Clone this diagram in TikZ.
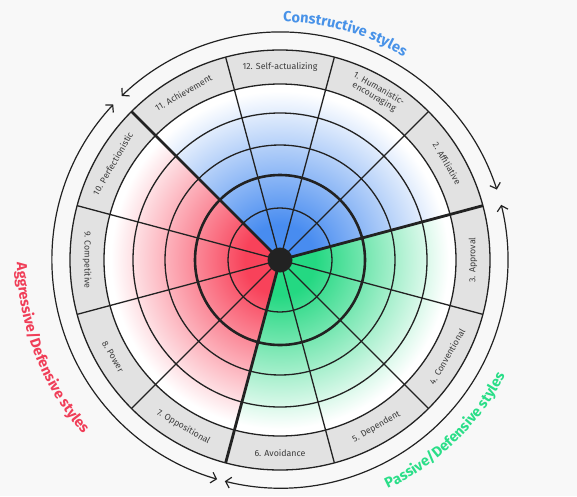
\documentclass[tikz,border=0pt]{standalone}
\usepackage{fontspec}
\setmainfont{Fira Sans}
\usetikzlibrary{arrows.meta,decorations.text}

\definecolor{bgGrey}{RGB}{248,248,248}
\definecolor{ringGrey}{RGB}{226,226,226}
\definecolor{lineDark}{RGB}{34,34,34}
\definecolor{labelDark}{RGB}{60,60,60}
\definecolor{blueFull}{RGB}{72,140,240}
\definecolor{redFull}{RGB}{248,66,90}
\definecolor{greenFull}{RGB}{36,216,130}
\definecolor{blueTitle}{RGB}{72,146,232}
\definecolor{redTitle}{RGB}{240,62,88}
\definecolor{greenTitle}{RGB}{42,222,136}

% radial fades, 25bp = radius of the shaded circle
\pgfdeclareradialshading{bluefade}{\pgfpoint{0bp}{0bp}}{color(0bp)=(blueFull); color(5bp)=(blueFull); color(24bp)=(white); color(50bp)=(white)}
\pgfdeclareradialshading{redfade}{\pgfpoint{0bp}{0bp}}{color(0bp)=(redFull); color(5bp)=(redFull); color(24bp)=(white); color(50bp)=(white)}
\pgfdeclareradialshading{greenfade}{\pgfpoint{0bp}{0bp}}{color(0bp)=(greenFull); color(5bp)=(greenFull); color(24bp)=(white); color(50bp)=(white)}

\begin{document}
\begin{tikzpicture}[
    x=1pt, y=1pt,
    ring/.style={draw=lineDark, line width=1.3pt},
    spoke/.style={draw=lineDark, line width=1.3pt},
    divider/.style={draw=lineDark, line width=2.8pt},
    stylearc/.style={draw=lineDark, line width=1.2pt,
                     {Straight Barb[length=5pt,width=11pt]}-{Straight Barb[length=5pt,width=11pt]}},
    segment/.style={font=\fontsize{8.8}{9.6}\selectfont, text=labelDark,
                    align=center, inner sep=0pt},
    title/.style={decorate, decoration={text along path, text align=center}}
]
    \useasboundingbox[fill=bgGrey] (-280,-236) rectangle (297,260);

    % grey ring and white disc
    \fill[ringGrey] (0,0) circle (210);
    \fill[white] (0,0) circle (176);

    % coloured sectors
    \begin{scope}
        \clip (0,0) -- (15:176) arc[start angle=15, end angle=135, radius=176] -- cycle;
        \shade[shading=bluefade] (0,0) circle (176);
    \end{scope}
    \begin{scope}
        \clip (0,0) -- (135:176) arc[start angle=135, end angle=255, radius=176] -- cycle;
        \shade[shading=redfade] (0,0) circle (176);
    \end{scope}
    \begin{scope}
        \clip (0,0) -- (255:176) arc[start angle=255, end angle=375, radius=176] -- cycle;
        \shade[shading=greenfade] (0,0) circle (176);
    \end{scope}

    % rings
    \foreach \r in {52,115,147,176,210}
        \draw[ring] (0,0) circle (\r);
    \draw[ring, line width=2.6pt] (0,0) circle (85);

    % spokes
    \foreach \a in {45,75,105,165,195,225,285,315,345}
        \draw[spoke] (0,0) -- (\a:210);
    \foreach \a in {15,135,255}
        \draw[divider] (0,0) -- (\a:210);

    \node[circle, fill=lineDark, minimum size=25pt, inner sep=0pt] (hub) at (0,0) {};

    % segment labels
    \node[segment, rotate=-30] (seg1) at (60:193) {1. Humanistic-\\encouraging};
    \node[segment, rotate=-60] (seg2) at (30:193) {2. Affiliative};
    \node[segment, rotate=90] (seg3) at (0:193) {3. Approval};
    \node[segment, rotate=60] (seg4) at (-30:193) {4. Conventional};
    \node[segment, rotate=30] (seg5) at (-60:193) {5. Dependent};
    \node[segment] (seg6) at (-90:193) {6. Avoidance};
    \node[segment, rotate=-30] (seg7) at (-120:193) {7. Oppositional};
    \node[segment, rotate=-60] (seg8) at (-150:193) {8. Power};
    \node[segment, rotate=-90] (seg9) at (180:193) {9. Competitive};
    \node[segment, rotate=60] (seg10) at (150:193) {10. Perfectionistic};
    \node[segment, rotate=30] (seg11) at (120:193) {11. Achievement};
    \node[segment] (seg12) at (90:193) {12. Self-actualizing};

    % style arcs
    \draw[stylearc] (18:228) arc[start angle=18, end angle=134, radius=228];
    \draw[stylearc] (137:228) arc[start angle=137, end angle=254, radius=228];
    \draw[stylearc] (256:228) arc[start angle=256, end angle=374, radius=228];

    % curved titles
    \path[title, decoration={text color=blueTitle,
          text={|\fontsize{14.5}{14.5}\selectfont\bfseries|Constructive styles}}]
        (110:238) arc[start angle=110, end angle=38, radius=238];
    \path[title, decoration={text color=greenTitle,
          text={|\fontsize{14.5}{14.5}\selectfont\bfseries|Passive/Defensive styles}}]
        (-86:253) arc[start angle=-86, end angle=-6, radius=253];
    \path[title, decoration={text color=redTitle,
          text={|\fontsize{14.5}{14.5}\selectfont\bfseries|Aggressive/Defensive styles}}]
        (157:263) arc[start angle=157, end angle=245, radius=263];
\end{tikzpicture}
\end{document}
